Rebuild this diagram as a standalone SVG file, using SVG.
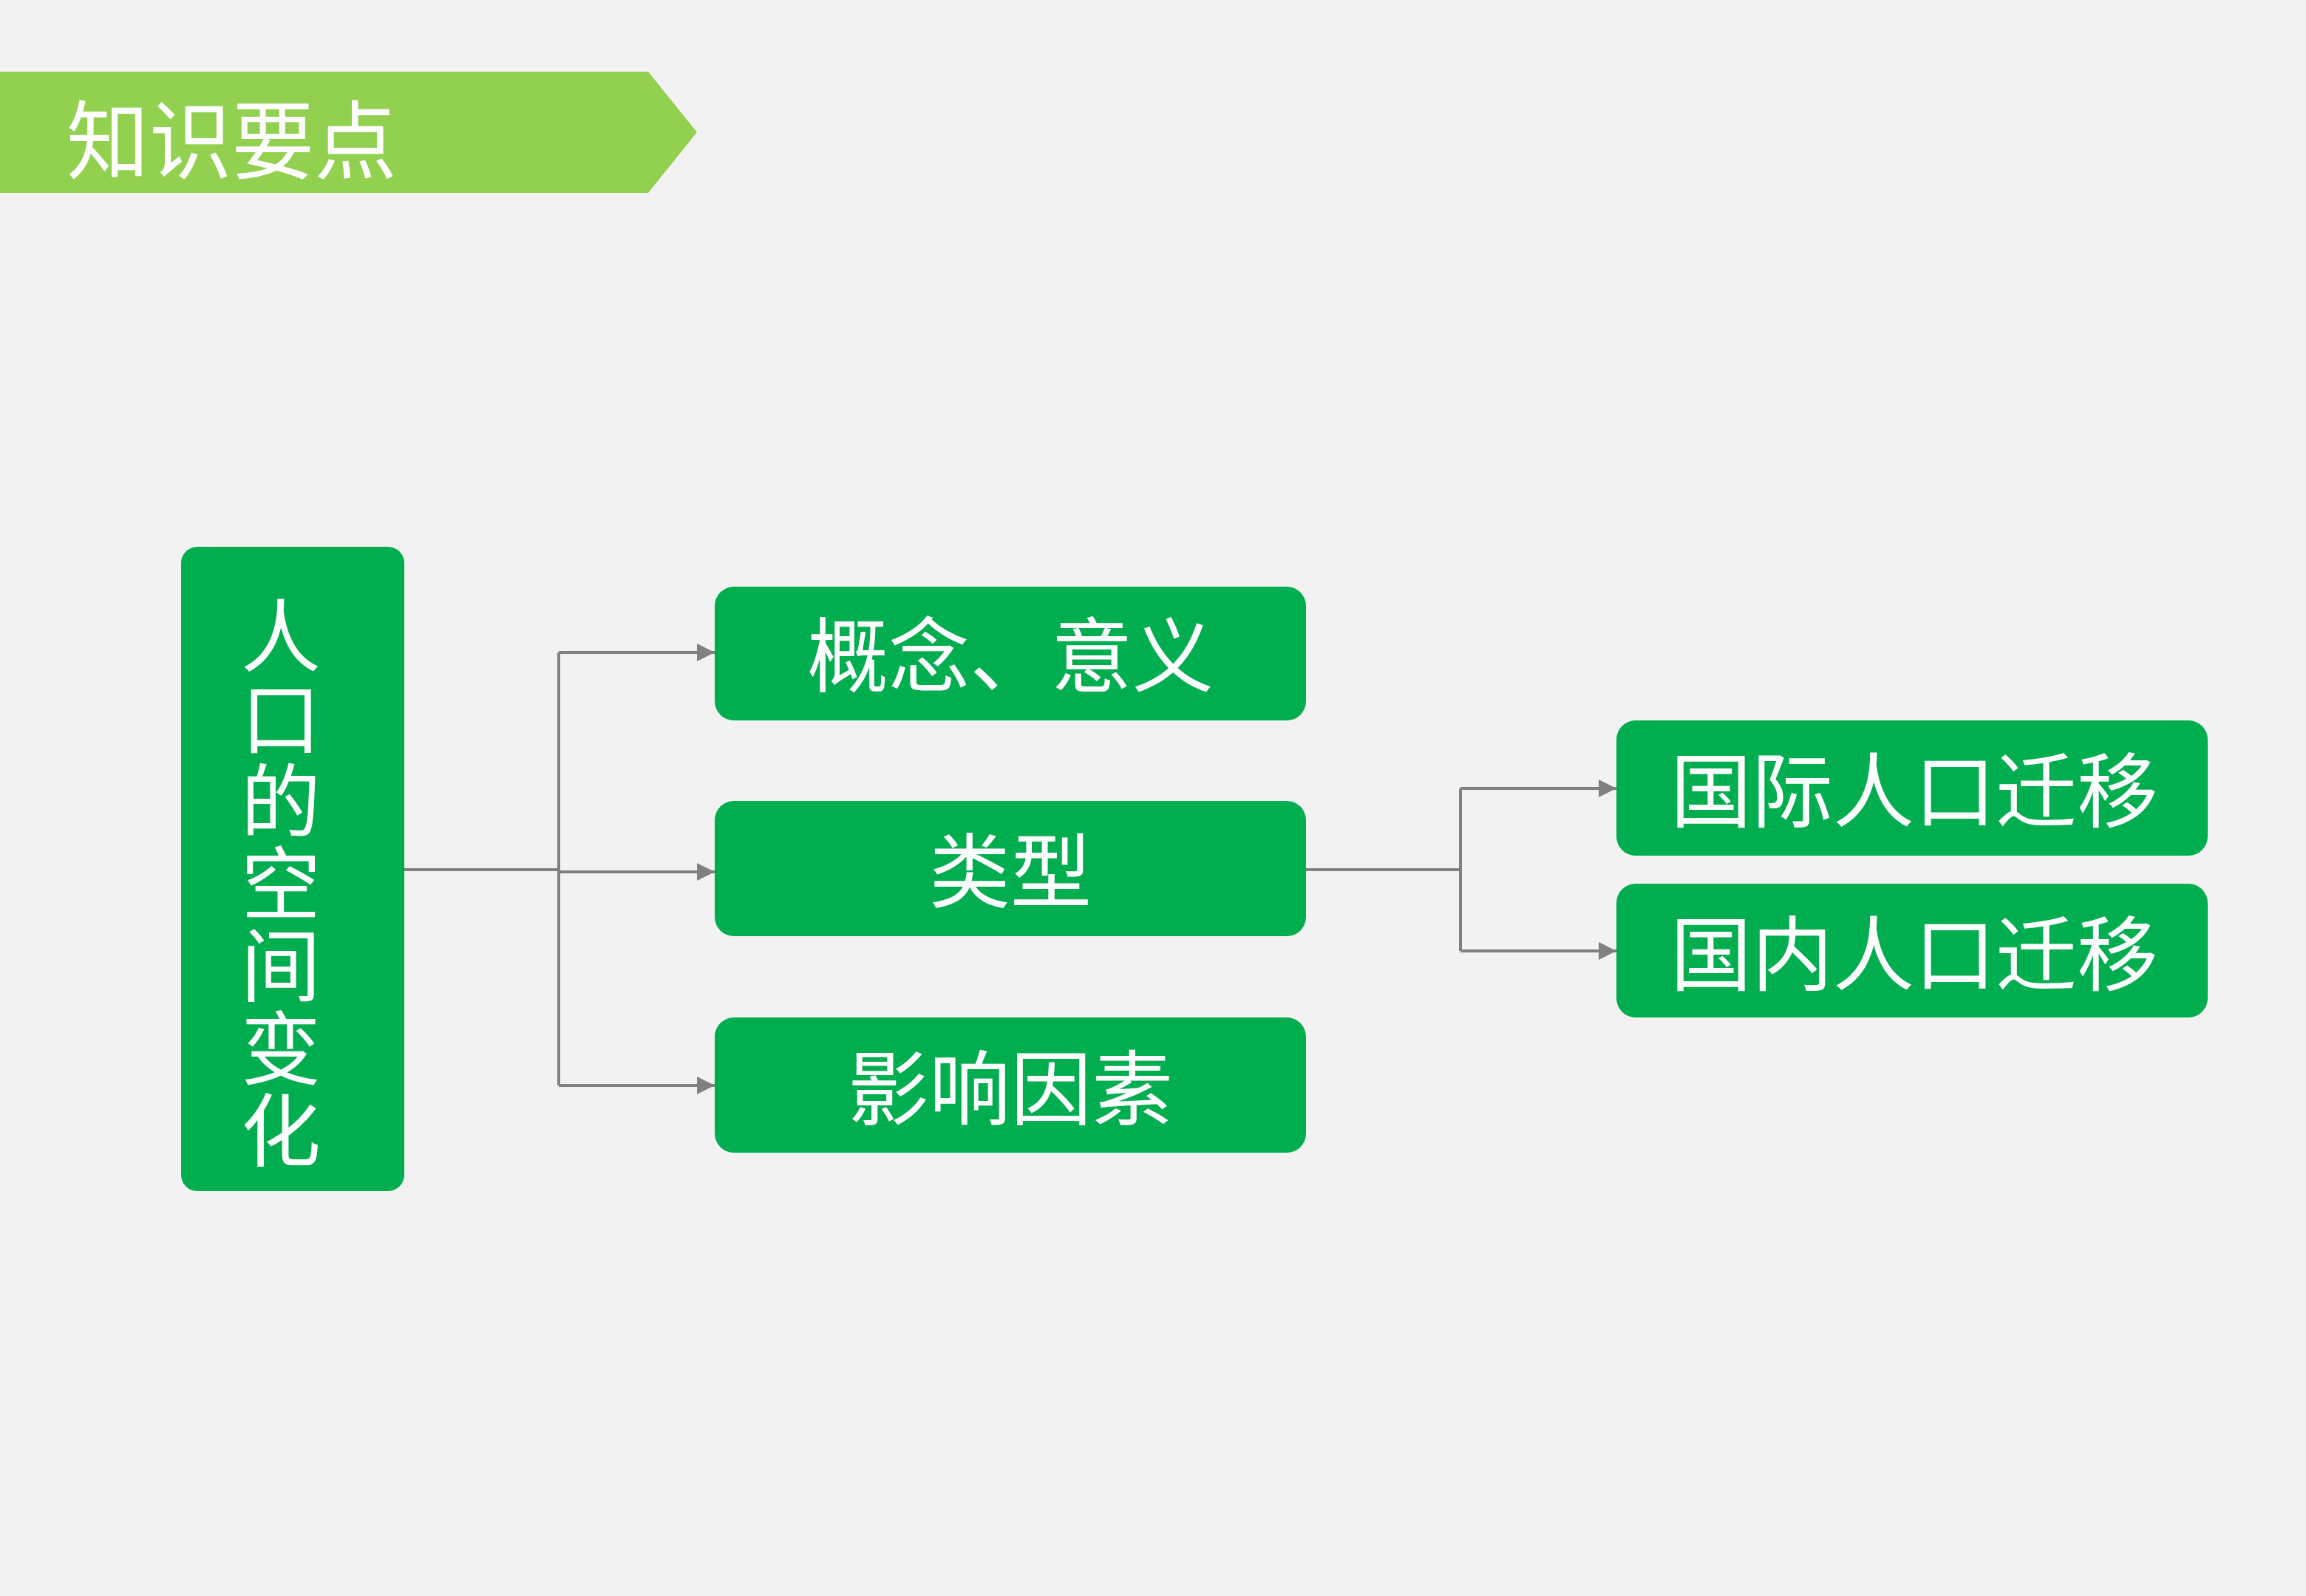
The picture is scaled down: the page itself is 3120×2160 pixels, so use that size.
<svg xmlns="http://www.w3.org/2000/svg" width="3120" height="2160" viewBox="0 0 3120 2160">
<defs>
<style>
.node{fill:#00AD4F;}
.lbl{fill:#FFFFFF;font-family:"Noto Sans CJK SC","Noto Sans CJK TC",sans-serif;font-size:110px;text-anchor:middle;dominant-baseline:central;}
.vlbl{fill:#FFFFFF;font-family:"Noto Sans CJK SC","Noto Sans CJK TC",sans-serif;font-size:108px;writing-mode:vertical-rl;letter-spacing:3.5px;}
.conn{fill:none;stroke:#808080;stroke-width:4;}
.title{fill:#FFFFFF;font-family:"Noto Sans CJK SC",sans-serif;font-size:116px;}
</style>
<marker id="arr" viewBox="0 0 10 10" refX="10" refY="5" markerWidth="6" markerHeight="6" orient="auto" markerUnits="strokeWidth">
<path d="M0,0 L10,5 L0,10 Z" fill="#808080"/>
</marker>
</defs>
<rect x="0" y="0" width="3120" height="2160" fill="#F2F2F2"/>
<g id="banner">
<polygon points="0,97 877,97 943,179 877,261 0,261" fill="#92D050"/>
<text class="title" x="90" y="182" dominant-baseline="central" textLength="447" lengthAdjust="spacingAndGlyphs">知识要点</text>
</g>
<g id="connectors">
<polyline class="conn" points="547,1177 756,1177"/>
<polyline class="conn" points="756,883 756,1469"/>
<polyline class="conn" marker-end="url(#arr)" points="756,883 967,883"/>
<polyline class="conn" marker-end="url(#arr)" points="756,1180 967,1180"/>
<polyline class="conn" marker-end="url(#arr)" points="756,1469 967,1469"/>
<polyline class="conn" points="1767,1177 1976,1177"/>
<polyline class="conn" points="1976,1067 1976,1287"/>
<polyline class="conn" marker-end="url(#arr)" points="1976,1067 2187,1067"/>
<polyline class="conn" marker-end="url(#arr)" points="1976,1287 2187,1287"/>
</g>
<g id="node-root">
<rect class="node" x="245" y="740" width="302" height="872" rx="22"/>
<text class="vlbl" x="380" y="806">人口的空间变化</text>
</g>
<g id="node-concept">
<rect class="node" x="967" y="794" width="800" height="181" rx="26"/>
<text class="lbl" x="1367" y="880">概念、意义</text>
</g>
<g id="node-type">
<rect class="node" x="967" y="1084" width="800" height="183" rx="26"/>
<text class="lbl" x="1367" y="1172">类型</text>
</g>
<g id="node-factor">
<rect class="node" x="967" y="1377" width="800" height="183" rx="26"/>
<text class="lbl" x="1367" y="1466">影响因素</text>
</g>
<g id="node-intl">
<rect class="node" x="2187" y="975" width="800" height="183" rx="26"/>
<text class="lbl" x="2590" y="1063">国际人口迁移</text>
</g>
<g id="node-dom">
<rect class="node" x="2187" y="1196" width="800" height="181" rx="26"/>
<text class="lbl" x="2590" y="1284">国内人口迁移</text>
</g>
</svg>
